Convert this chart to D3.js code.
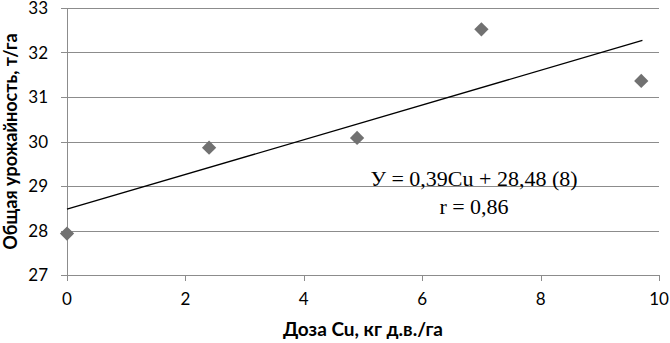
<!DOCTYPE html>
<html>
<head>
<meta charset="utf-8">
<script src="https://cdn.jsdelivr.net/npm/d3@7"></script>
<style>
  body { margin: 0; background: #fff; }
  text { fill: #000; }
</style>
</head>
<body>
<div id="main"></div>
<script>
// dose of Cu, kg a.i./ha
var doses = [0, 2.4, 4.9, 7.0, 9.7];
// total yield, t/ha
var yields = [27.93, 29.86, 30.08, 32.52, 31.36];
// trend line  Y = 0.39Cu + 28.48
var trendX = [0, 9.72];
var trendY = [28.48, 32.27];
var xTicks = [0, 2, 4, 6, 8, 10];
var yTicks = [27, 28, 29, 30, 31, 32, 33];
var eqLines = ["У = 0,39Cu + 28,48 (8)", "r = 0,86"];

var width = 670, height = 343;
var plotLeft = 67, plotRight = 659, plotTop = 8, plotBottom = 275;

var svg = d3.select("#main").append("svg")
  .attr("width", width)
  .attr("height", height);

var x = d3.scaleLinear().domain([0, 10]).range([plotLeft, plotRight]);
var y = d3.scaleLinear().domain([27, 33]).range([plotBottom, plotTop]);

// horizontal grid
svg.append("g")
  .selectAll("line")
  .data(yTicks)
  .enter().append("line")
  .attr("x1", plotLeft - 6)
  .attr("x2", plotRight)
  .attr("y1", function(d) { return Math.round(y(d)) + 0.5; })
  .attr("y2", function(d) { return Math.round(y(d)) + 0.5; })
  .attr("stroke", "#8c8c8c")
  .attr("stroke-width", 1);

// y axis line
svg.append("line")
  .attr("x1", plotLeft + 0.5).attr("x2", plotLeft + 0.5)
  .attr("y1", plotTop).attr("y2", plotBottom)
  .attr("stroke", "#8c8c8c");

// y tick labels
svg.append("g")
  .selectAll("text")
  .data(yTicks)
  .enter().append("text")
  .attr("x", 48)
  .attr("y", function(d) { return y(d); })
  .attr("dy", "0.36em")
  .attr("text-anchor", "end")
  .style("font-family", "Lato, 'Open Sans', sans-serif")
  .style("font-size", "17px")
  .text(function(d) { return d; });

// x ticks
svg.append("g")
  .selectAll("line")
  .data(xTicks)
  .enter().append("line")
  .attr("x1", function(d) { return Math.round(x(d)) + 0.5; })
  .attr("x2", function(d) { return Math.round(x(d)) + 0.5; })
  .attr("y1", plotBottom)
  .attr("y2", plotBottom + 6)
  .attr("stroke", "#8c8c8c");

svg.append("g")
  .selectAll("text")
  .data(xTicks)
  .enter().append("text")
  .attr("x", function(d) { return x(d); })
  .attr("y", plotBottom + 30)
  .attr("text-anchor", "middle")
  .style("font-family", "Lato, 'Open Sans', sans-serif")
  .style("font-size", "17px")
  .text(function(d) { return d; });

// axis titles
svg.append("text")
  .attr("x", (plotLeft + plotRight) / 2)
  .attr("y", 336)
  .attr("text-anchor", "middle")
  .style("font-family", "Lato, 'Open Sans', sans-serif")
  .style("font-size", "19px")
  .style("font-weight", "bold")
  .text("Доза Cu, кг д.в./га");

svg.append("text")
  .attr("transform", "translate(17," + ((plotTop + plotBottom) / 2) + ") rotate(-90)")
  .attr("text-anchor", "middle")
  .style("font-family", "Lato, 'Open Sans', sans-serif")
  .style("font-size", "18px")
  .style("font-weight", "bold")
  .text("Общая урожайность, т/га");

// trend line
var line = d3.line()
  .x(function(d) { return x(d[0]); })
  .y(function(d) { return y(d[1]); });

svg.append("path")
  .datum(d3.zip(trendX, trendY))
  .attr("d", line)
  .attr("fill", "none")
  .attr("stroke", "#000")
  .attr("stroke-width", 1.3);

// data points
var diamond = d3.symbol().type(d3.symbolDiamond2).size(130);
svg.append("g")
  .selectAll("path")
  .data(d3.zip(doses, yields))
  .enter().append("path")
  .attr("d", diamond)
  .attr("transform", function(d) { return "translate(" + x(d[0]) + "," + y(d[1]) + ")"; })
  .attr("fill", "#717171");

// equation
svg.append("g")
  .selectAll("text")
  .data(eqLines)
  .enter().append("text")
  .attr("x", 474)
  .attr("y", function(d, i) { return 186 + i * 28; })
  .attr("text-anchor", "middle")
  .style("font-family", "'Liberation Serif', 'Times New Roman', serif")
  .style("font-size", "22px")
  .text(function(d) { return d; });
</script>
</body>
</html>
